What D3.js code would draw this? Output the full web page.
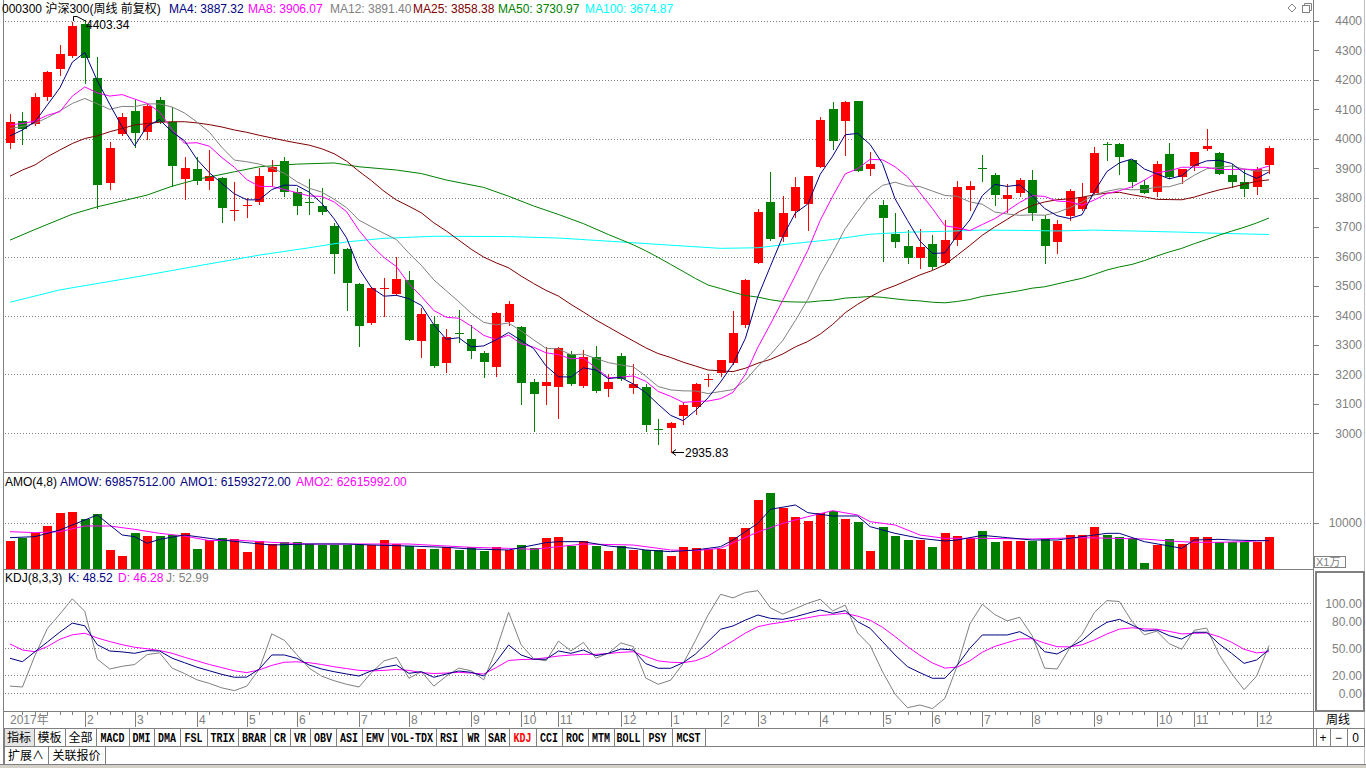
<!DOCTYPE html>
<html><head><meta charset="utf-8">
<script src="https://cdn.jsdelivr.net/npm/d3@7/dist/d3.min.js"></script>
<style>html,body{margin:0;padding:0;background:#fff;overflow:hidden}svg{display:block}</style>
</head><body>
<script>
// ---------------- DATA ----------------
const opens=[3987,4060,4049,4143,4236,4281,4390,4207,3851,4015,
4094,4024,4132,4056,3864,3897,3857,3866,3757,3773,
3786,3888,3925,3819,3784,3771,3703,3625,3507,3376,
3490,3472,3520,3314,3370,3239,3341,3319,3271,3225,
3378,3360,3173,3161,3157,3268,3161,3258,3151,3262,
3155,3156,3016,3018,3058,3090,3180,3205,3239,3367,
3579,3784,3667,3754,3778,3905,4101,4061,4128,3898,
3775,3677,3636,3596,3642,3579,3656,3826,3900,3877,
3795,3817,3860,3727,3650,3737,3760,3815,3982,3982,
3928,3843,3820,3948,3871,3907,3965,3953,3877,3854,
3837,3910];
const highs=[4084,4090,4154,4231,4318,4395,4403.34,4279,3989,4086,
4132,4117,4143,4109,3937,3937,3962,3870,3854,3800,
3901,3928,3939,3834,3863,3832,3713,3630,3510,3497,
3528,3599,3551,3426,3400,3354,3418,3369,3280,3412,
3450,3363,3184,3293,3292,3280,3282,3296,3203,3273,
3234,3166,3048,3038,3107,3172,3203,3250,3414,3525,
3763,3888,3805,3869,3875,4073,4126,4127,4130,3956,
3792,3749,3690,3693,3673,3724,3856,3856,3945,3884,
3846,3866,3894,3741,3724,3831,3849,3973,3990,3986,
3933,3860,3925,3987,3898,3956,4033,3955,3916,3899,
3903,3975];
const lows=[3970,3983,4046,4132,4216,4278,4188,3766,3831,4012,
3973,4001,4052,3839,3797,3845,3831,3717,3725,3735,
3777,3843,3806,3744,3744,3745,3545,3418,3297,3370,
3400,3470,3316,3259,3225,3208,3310,3257,3191,3196,
3367,3098,3008,3101,3052,3165,3157,3140,3127,3182,
3138,3008,2965,2935.83,3033,3066,3160,3195,3237,3362,
3577,3656,3652,3735,3690,3903,3967,3945,3889,3877,
3584,3633,3579,3560,3557,3575,3639,3758,3856,3775,
3752,3805,3724,3579,3613,3724,3759,3812,3928,3882,
3837,3815,3805,3866,3851,3894,3963,3880,3835,3805,
3812,3885];
const closes=[4056,4034,4142,4228,4288,4383,4275,3843,3968,4074,
4020,4111,4056,3907,3900,3857,3873,3764,3759,3775,
3873,3903,3820,3771,3782,3752,3609,3511,3364,3494,
3493,3523,3318,3404,3229,3326,3339,3280,3242,3409,
3438,3171,3134,3173,3290,3167,3259,3144,3173,3184,
3168,3028,3014,3034,3095,3168,3185,3248,3339,3520,
3750,3659,3747,3835,3873,4064,3993,4125,3891,3914,
3732,3649,3596,3633,3565,3656,3837,3839,3896,3809,
3809,3860,3749,3636,3710,3822,3801,3953,3980,3939,
3854,3817,3914,3871,3898,3956,3975,3880,3854,3829,
3899,3968];
const ma4=[4010,4030,4058,4115,4173,4260.25,4293.5,4197.25,4117.25,4040,
3976.25,4043.25,4065.25,4023.5,3993.5,3930,3884.25,3848.5,3813.25,3792.75,
3792.75,3827.5,3842.75,3841.75,3819,3781.25,3728.5,3663.5,3559,3494.5,
3465.5,3468.5,3457,3434.5,3368.5,3319.25,3324.5,3293.5,3296.75,3317.5,
3342.25,3315,3288,3229,3192,3191,3222.25,3215,3185.75,3190,
3167.25,3138.25,3098.5,3061,3042.75,3077.75,3120.5,3174,3235,3323,
3464.25,3567,3669,3747.75,3778.5,3879.75,3941.25,4013.75,4018.25,3980.75,
3915.5,3796.5,3722.75,3652.5,3610.75,3612.5,3672.75,3724.25,3807,3845.25,
3838.25,3843.5,3806.75,3763.5,3738.75,3729.25,3742.25,3821.5,3889,3918.25,
3931.5,3897.5,3881,3864,3875,3909.75,3925,3927.25,3916.25,3884.5,
3865.5,3887.5];
const ma8=[4047,4052,4060,4080,4092,4145,4176,4156.1,4145.1,4150.1,
4134.9,4120.25,4091.25,4031.75,3984.9,3986.6,3974.75,3936,3903.4,3861.4,
3838.5,3838,3828,3817.25,3805.9,3804.4,3785.6,3752.6,3689,3637.9,
3597,3566,3508,3464.5,3417,3393.9,3390.75,3364,3332.6,3318.4,
3333.4,3304.25,3292.4,3273.25,3267.1,3253,3255.1,3222,3188.9,3190.5,
3194.75,3176.6,3142.1,3125.5,3105,3108,3109.5,3117.5,3138.9,3200.4,
3292.4,3370.5,3452,3535.4,3621.4,3723.4,3805.1,3880.75,3898.4,3930.25,
3928.4,3905.1,3870.5,3816.6,3763.1,3704.5,3697.75,3688.4,3708.9,3728.9,
3755.5,3783.9,3806.9,3804.4,3788.5,3786.4,3774.5,3792.5,3813.9,3823.75,
3836.9,3859.5,3885,3891.1,3903.25,3903.6,3903,3895.6,3895.6,3897.1,
3895.25,3907.4];
const ma12=[4035,4042,4052,4072,4095,4120,4137,4119,4100.1,4110.1,
4109.25,4118.5,4118.5,4107.9,4087.75,4056.8,4022.25,3970.7,3927.7,3922,
3914.1,3899.8,3883.2,3854.8,3832,3819.1,3794.8,3766,3723.6,3701.1,
3678.9,3657.9,3611.7,3570.1,3520.8,3483.75,3446.8,3407.5,3376.9,3368.4,
3374.6,3347.7,3317.75,3288.6,3286.25,3266.5,3269,3253.8,3240,3232,
3225.8,3194.1,3158.75,3147.3,3144.1,3143.7,3134.9,3141.7,3148.3,3179.7,
3227.75,3267.3,3315.6,3382.8,3454.4,3540.25,3615.1,3694.8,3753.7,3809.2,
3841.9,3852.7,3839.8,3837.7,3822.5,3807.6,3804.6,3785.8,3777.75,3751.4,
3744.6,3740.1,3741.5,3740.4,3749.9,3765.7,3785.3,3810.1,3822,3830.3,
3826.8,3827.5,3836.25,3837.2,3849.6,3876.25,3898.3,3903.2,3907.6,3897.25,
3890.5,3892.9];
const ma25=[3873,3894,3911,3939,3962,3984,4001,4010,4024,4035,
4047,4052,4056,4058,4058,4054,4048,4040,4030,4022,
4012,4003,3994,3986,3978.5,3966.3,3949.3,3924.1,3889.5,3857.8,
3822.2,3792.1,3771.1,3748.5,3714.7,3687,3656.1,3625,3598.4,3578.8,
3562,3534,3508.8,3485.3,3465.9,3437.7,3411.9,3384.9,3361,3337,
3313.7,3290.4,3270.6,3257.4,3241.4,3228.4,3214.9,3212.1,3209.5,3221.1,
3238.1,3250.9,3269.6,3293.3,3311.8,3336.9,3369.8,3409.4,3438.1,3463.1,
3485.7,3501.3,3519.4,3537.8,3553,3572.5,3604.9,3637.9,3672.4,3700.9,
3726.6,3753.6,3773.6,3785.5,3793.1,3796,3801.6,3809.9,3815.7,3818.3,
3809.9,3802.9,3794.4,3793.6,3793,3802,3815,3826.4,3835.2,3845.8,
3855.5,3860.7];
// [week index, value]
const ma50=[[0,3656],[2,3692],[5,3744],[7,3769],[11,3809],[13,3839],[15,3862],[18,3888],[20,3905],[23,3914],
[26,3918],[28,3905],[31,3894],[33,3882],[35,3860],[38,3835],[40,3805],[42,3772],[44,3743],[46,3712],[48,3675],
[49,3657.8],[50,3640],[51,3619.9],[52,3597.3],[53,3573.4],[54,3549.6],[55,3525.3],[56,3503.5],[57,3491.6],[58,3479],
[59,3467.9],[60,3462.5],[61,3453.5],[62,3447.3],[63,3445.9],[64,3445.3],[65,3449.5],[66,3451.9],[67,3459.1],[68,3461.7],
[69,3464.5],[70,3461.7],[71,3456.6],[72,3452.1],[73,3449.4],[74,3445],[75,3443.1],[76,3447.7],[77,3454.2],[78,3464.9],
[79,3471.2],[80,3477.5],[81,3484.2],[82,3492.8],[83,3497.5],[84,3507.1],[85,3517],[86,3526.3],[87,3539.7],[88,3554.5],
[89,3565.1],[90,3573.4],[91,3586.3],[92,3601.9],[93,3615.9],[94,3628],[95,3643.8],[96,3658.1],[97,3672.9],[98,3686.5],
[99,3699.4],[100,3714],[101,3731]];
const ma100=[[0,3445],[4,3487],[10,3530],[15,3568],[20,3605],[24,3630],[27,3650],[30,3662],[34,3669],[40,3668],
[44,3663],[47,3655],[50,3647],[54,3636],[57,3628],[60,3630],[63,3645],[66,3658],[69,3676],[72,3683],
[75,3686],[78,3690],[81,3689],[84,3687],[87,3690],[90,3687],[94,3683],[97,3679],[101,3675]];
// turnover (x1万)
const amo=[6152,6739,7754,9420,12246,12464,10797,12029,4130,2826,
7899,7246,7246,7391,7899,4420,6304,6667,6522,3768,
6087,5435,5942,5942,5435,5217,5217,5217,5217,5217,
6304,5435,5000,4348,4348,4855,4130,4710,3913,4710,
4130,5217,4493,6739,6957,5072,6087,5000,3986,5000,
4130,4058,4058,2826,4783,4565,4348,4348,6957,8913,
15000,16522,13333,11304,10435,12101,12609,10870,10217,3913,
9130,7174,6304,6304,4783,7899,7246,6812,8261,5942,
6087,6087,6087,6449,6087,7391,7391,9130,7391,7029,
6812,1304,5217,6522,5500,7000,7000,5950,5900,5850,
5900,6986];
const amo1=[[0,6812],[2,7029],[4,8478],[6,10652],[7,11739],[8,9565],[9,7391],[10,7029],[11,5580],[12,6449],
[14,7391],[15,7029],[17,6304],[19,5725],[21,5217],[24,5435],[27,5435],[29,5217],[32,5000],[35,4710],
[37,4348],[38,4275],[40,4130],[43,5725],[44,5942],[46,5942],[48,5000],[50,4493],[51,4130],[53,3768],
[55,4130],[56,4493],[57,4855],[58,6304],[60,9927],[61,12971],[63,13913],[64,12246],[66,11522],[68,11522],
[69,9203],[71,7754],[73,6667],[75,6087],[76,6304],[78,7319],[80,6812],[82,6304],[84,6304],[86,7029],
[88,7754],[89,7754],[91,5942],[93,5000],[94,4493],[95,6304],[97,6449],[98,6304],[100,6159],[101,6159]];
const amo2=[[0,8116],[2,7899],[4,8116],[6,9348],[8,9348],[10,8623],[12,7754],[14,7174],[16,6159],[18,6304],
[21,5797],[24,5435],[27,5435],[29,5435],[32,5435],[35,5000],[37,4710],[40,4493],[42,4275],[46,5435],
[50,5217],[53,4130],[55,3986],[57,4493],[60,8043],[62,9927],[64,11377],[66,12681],[68,11739],[69,10290],
[71,9565],[73,7391],[75,6667],[78,6667],[82,6522],[86,6812],[91,6522],[93,6087],[95,5797],[97,5797],
[99,5942],[101,6262]];
const kdjK=[38.9,35.1,46.2,57,68,78,75,54,47,46,
44.4,47.4,47,39,34,29,25,21,17.8,18,
27,42.6,42.6,38.9,31.4,27,24,21.5,19.2,25,
29,31.4,22.2,24,17.8,21.4,24.8,23.3,19.2,35.1,
53.7,42.6,37.8,37.8,47,44.4,48.1,41.8,44.4,49.2,
48.1,33,27.8,27.8,34,43.7,57.4,71.1,74.8,81.4,
87,83.3,82.2,85.1,88.9,92.6,88.9,91.8,79.6,72.2,
57.4,42.6,29.6,22.9,16.7,16.7,31.4,50,64.8,64.8,
64.8,68.5,61.1,46.2,43.7,51.1,58.5,70.3,78.9,82.2,
75.9,69.2,70.3,64,60.3,67.8,67.8,54.8,44.4,33.3,
37,48.52];
const kdjD=[54.8,48.1,46.2,52,60,65,66.7,61.5,57.5,54,
51.1,49.5,47.5,44.5,40,36,32,28.5,25,23,
26,31,34.5,35,34,32,29.5,27.5,25.5,24.8,
25.5,26.5,25.5,23,22,22.5,23.3,22.5,21.4,28.5,
36.5,37.5,37.8,39.5,41.4,42.5,43.3,43.3,44.2,45.5,
46.2,41,36,34.5,34,36.2,41.4,50,58.3,67,
74,77,79,81.5,84,86.5,87.5,88.8,85.7,81.2,
73.3,63.1,51.9,42.2,33.7,28,29.1,36.1,45.7,52.1,
56.3,60.4,60.6,55.8,51.8,51.6,53.9,59.4,65.9,71.3,
72.8,71.6,71.2,68.8,66,66.6,67,62.9,56.7,48.9,
44.9,46.28];
const kdjJ=[8,7,42,72,88,105,91,38,27,30,
32,43,45,28,22,15,11,6,3,8,
27,66,59,43,28,19,14,10,7,23,
36,40,16.7,24,8,19,28,25,15,48,
90,54,38.5,36,58,47,56.5,39,44.5,56,
52,17,10,14.6,33,59,87,110,106,112,
114,95,88,94,100,104.5,91.5,98,67,53,
24,-1,-16,-13,-17,-5.6,31,77,99,87.5,
80.5,84.5,64,28,27,50,65.5,90,103,102,
80,65,69,55,49,70,72.5,43,22,4,
19,52.99];
const monthTicks=[[0,"2017年"],[6,"2"],[10,"3"],[15,"4"],[19,"5"],[23,"6"],[28,"7"],[32,"8"],[37,"9"],[41,"10"],[44,"11"],[49,"12"],
[53,"1"],[57,"2"],[60,"3"],[65,"4"],[70,"5"],[74,"6"],[78,"7"],[82,"8"],[87,"9"],[92,"10"],[95,"11"],[100,"12"]];
const priceTicks=d3.range(3000,4401,100);
const priceGrid=d3.range(3000,4401,200);
const amoTicks=[10000];
const kdjTicks=[0,20,50,80,100];
const headerItems=[["000300 沪深300(周线 前复权)","#000000"],["MA4: 3887.32","#000080"],["MA8: 3906.07","#ff00ff"],["MA12: 3891.40","#808080"],["MA25: 3858.38","#800000"],["MA50: 3730.97","#008000"],["MA100: 3674.87","#00ffff"]];
const amoItems=[["AMO(4,8)","#000000"],["AMOW: 69857512.00","#000080"],["AMO1: 61593272.00","#000080"],["AMO2: 62615992.00","#ff00ff"]];
const kdjItems=[["KDJ(8,3,3)","#000000"],["K: 48.52","#000080"],["D: 46.28","#ff00ff"],["J: 52.99","#808080"]];
const tabs=["指标","模板","全部","MACD","DMI","DMA","FSL","TRIX","BRAR","CR","VR","OBV","ASI","EMV","VOL-TDX","RSI","WR","SAR","KDJ","CCI","ROC","MTM","BOLL","PSY","MCST"];
const tabs2=["扩展∧","关联报价"];
const hiMark={idx:6,value:4403.34,label:"4403.34"};
const loMark={idx:53,value:2935.83,label:"2935.83"};

// ---------------- LAYOUT ----------------
const headerX=[2,169,248,330,413,498,585];
const amoX=[5,60,180,296];
const kdjX=[5,68,118,166];
const tabSeps=[4,34,65,96,129,154,180,207,238,270,290,310,336,362,388,436,462,485,509,536,562,588,614,643,672,705];
const tab2Seps=[4,48,105];
const FONT='"Liberation Sans","Noto Sans CJK SC",Arial,sans-serif';
const GRAY="#808080", RED="#ff0000", GRN="#008000";
const AX=1313; // right axis x

const svg=d3.select("body").append("svg").attr("width",1366).attr("height",768).style("font-family",FONT).style("font-size","12px");
svg.append("rect").attr("width",1366).attr("height",768).attr("fill","#fff");
const defs=svg.append("defs");
defs.append("clipPath").attr("id","cMain").append("rect").attr("x",4).attr("y",16).attr("width",AX-4).attr("height",456);
defs.append("clipPath").attr("id","cVol").append("rect").attr("x",4).attr("y",473).attr("width",AX-4).attr("height",96);
defs.append("clipPath").attr("id","cKdj").append("rect").attr("x",4).attr("y",570).attr("width",AX-4).attr("height",141);

const n=closes.length;
const x=d3.scalePoint().domain(d3.range(n)).range([10,1269]);
const cx=i=>Math.round(x(i));
const yP=d3.scaleLinear().domain([3000,4400]).range([433.3,21]);
const yV=d3.scaleLinear().domain([0,10000]).range([569,523]);
const yK=d3.scaleLinear().domain([0,100]).range([693.3,603.3]);
const isUp=i=>closes[i]>=opens[i];

function hl(y,x1,x2,c,w){svg.append("line").attr("x1",x1).attr("x2",x2).attr("y1",y).attr("y2",y).attr("stroke",c||GRAY).attr("stroke-width",w||1).attr("shape-rendering","crispEdges");}
function vl(xx,y1,y2,c,w){svg.append("line").attr("x1",xx).attr("x2",xx).attr("y1",y1).attr("y2",y2).attr("stroke",c||GRAY).attr("stroke-width",w||1).attr("shape-rendering","crispEdges");}
function dotted(y){svg.append("line").attr("x1",5).attr("x2",AX).attr("y1",Math.round(y)+0.5).attr("y2",Math.round(y)+0.5).attr("stroke",GRAY).attr("stroke-dasharray","1,2").attr("shape-rendering","crispEdges");}

// frame
vl(3.5,0,764,GRAY);
vl(AX+0.5,0,746,GRAY);
vl(1364.5,0,764,"#c0c0c0");
hl(472.5,3,AX,GRAY);
hl(569.5,3,AX,GRAY);
hl(711.5,3,1365,GRAY);
hl(728.5,3,1365,GRAY);
hl(746.5,3,1365,GRAY);
hl(764.5,0,1366,GRAY);
svg.append("rect").attr("x",0).attr("y",765).attr("width",1366).attr("height",3).attr("fill","#d4d0c8");

// grids
priceGrid.forEach(v=>dotted(yP(v)));
amoTicks.forEach(v=>dotted(yV(v)));
kdjTicks.forEach(v=>dotted(yK(v)));

// price axis
const gA=svg.append("g").attr("transform",`translate(${AX+0.5},0)`)
  .call(d3.axisRight(yP).tickValues(priceTicks).tickSize(5).tickFormat(d3.format("d")));
gA.select(".domain").remove();
gA.attr("font-family",FONT).attr("font-size",12);
gA.selectAll("line").attr("stroke",GRAY).attr("shape-rendering","crispEdges");
gA.selectAll("text").attr("x",48.5).attr("text-anchor","end").attr("fill",GRAY);

const gV=svg.append("g").attr("transform",`translate(${AX+0.5},0)`)
  .call(d3.axisRight(yV).tickValues(amoTicks).tickSize(5).tickFormat(d3.format("d")));
gV.select(".domain").remove();
gV.attr("font-family",FONT).attr("font-size",12);
gV.selectAll("line").attr("stroke",GRAY).attr("shape-rendering","crispEdges");
gV.selectAll("text").attr("x",48.5).attr("text-anchor","end").attr("fill",GRAY);
svg.append("rect").attr("x",1314.5).attr("y",556.5).attr("width",31).attr("height",11).attr("fill","none").attr("stroke",GRAY).attr("shape-rendering","crispEdges");
svg.append("text").attr("x",1316).attr("y",566).attr("fill",GRAY).style("font-size","11px").text("X1万");

// KDJ axis box
svg.append("rect").attr("x",1315.5).attr("y",571.5).attr("width",48).attr("height",139).attr("fill","none").attr("stroke",GRAY).attr("stroke-width",2).attr("shape-rendering","crispEdges");
const gK=svg.append("g").attr("transform",`translate(${AX+0.5},0)`)
  .call(d3.axisRight(yK).tickValues(kdjTicks).tickSize(0).tickFormat(d3.format(".2f")));
gK.select(".domain").remove();
gK.attr("font-family",FONT).attr("font-size",12);
gK.selectAll("text").attr("x",48.5).attr("text-anchor","end").attr("fill",GRAY);

// header texts
function labelRow(items,xs,y){items.forEach((d,i)=>svg.append("text").attr("x",xs[i]).attr("y",y).attr("fill",d[1]).text(d[0]));}
labelRow(headerItems,headerX,13);
labelRow(amoItems,amoX,486);
labelRow(kdjItems,kdjX,582);
// top-right icons
svg.append("path").attr("d","M1292,4 l4,4 l-4,4 l-4,-4 z").attr("fill","none").attr("stroke",GRAY);
svg.append("rect").attr("x",1302.5).attr("y",5.5).attr("width",7).attr("height",7).attr("fill","none").attr("stroke",GRAY);
svg.append("path").attr("d","M1304.5,5.5 v-2 h7 v7 h-2").attr("fill","none").attr("stroke",GRAY);

// candles
const gc=svg.append("g").attr("clip-path","url(#cMain)").attr("shape-rendering","crispEdges");
const idx=d3.range(n);
gc.selectAll("line.wick").data(idx).join("line").attr("class","wick")
  .attr("x1",i=>cx(i)+0.5).attr("x2",i=>cx(i)+0.5)
  .attr("y1",i=>Math.round(yP(highs[i]))).attr("y2",i=>Math.round(yP(lows[i]))+1)
  .attr("stroke",i=>isUp(i)?RED:GRN);
gc.selectAll("rect.body").data(idx).join("rect").attr("class","body")
  .attr("x",i=>cx(i)-4).attr("width",9)
  .attr("y",i=>Math.round(yP(Math.max(opens[i],closes[i]))))
  .attr("height",i=>Math.max(1,Math.round(yP(Math.min(opens[i],closes[i])))-Math.round(yP(Math.max(opens[i],closes[i])))))
  .attr("fill",i=>isUp(i)?RED:GRN);

// MA lines
const gl=svg.append("g").attr("clip-path","url(#cMain)").attr("fill","none");
const lineP=d3.line().x(d=>x(d[0])).y(d=>yP(d[1]));
const asPairs=a=>a.map((v,i)=>[i,v]);
[[ma100,"#00ffff"],[ma50,"#008000"],[asPairs(ma25),"#800000"],[asPairs(ma12),GRAY],[asPairs(ma8),"#ff00ff"],[asPairs(ma4),"#000080"]]
 .forEach(([d,c])=>gl.append("path").attr("d",lineP(d)).attr("stroke",c).attr("stroke-width",1));

// high / low marks
const hx=cx(hiMark.idx), hy=Math.round(yP(hiMark.value));
svg.append("path").attr("d",`M${hx-11.5},${hy+1} V${hy-3.5} H${hx-8} L${hx+0.5},${hy+1}`).attr("fill","none").attr("stroke","#000");
svg.append("text").attr("x",hx+1).attr("y",hy+8.5).attr("fill","#000").text(hiMark.label);
const lx=cx(loMark.idx), ly=Math.round(yP(loMark.value))+0.5;
svg.append("path").attr("d",`M${lx+1},${ly} H${lx+13} M${lx+1},${ly} l4,-3 M${lx+1},${ly} l4,3`).attr("fill","none").attr("stroke","#000");
svg.append("text").attr("x",lx+14).attr("y",ly+4.5).attr("fill","#000").text(loMark.label);

// volume
const gv=svg.append("g").attr("clip-path","url(#cVol)").attr("shape-rendering","crispEdges");
gv.selectAll("rect").data(idx).join("rect")
  .attr("x",i=>cx(i)-4).attr("width",9)
  .attr("y",i=>Math.round(yV(amo[i]))).attr("height",i=>569-Math.round(yV(amo[i])))
  .attr("fill",i=>isUp(i)?RED:GRN);
const lineV=d3.line().x(d=>x(d[0])).y(d=>yV(d[1]));
const gvl=svg.append("g").attr("clip-path","url(#cVol)").attr("fill","none");
gvl.append("path").attr("d",lineV(amo2)).attr("stroke","#ff00ff");
gvl.append("path").attr("d",lineV(amo1)).attr("stroke","#000080");

// KDJ
const lineK=d3.line().x(d=>x(d[0])).y(d=>yK(d[1]));
const gk=svg.append("g").attr("clip-path","url(#cKdj)").attr("fill","none");
gk.append("path").attr("d",lineK(asPairs(kdjJ))).attr("stroke",GRAY);
gk.append("path").attr("d",lineK(asPairs(kdjD))).attr("stroke","#ff00ff");
gk.append("path").attr("d",lineK(asPairs(kdjK))).attr("stroke","#000080");

// x axis row
const monthIdx=new Set(monthTicks.map(d=>d[0]));
const gx=svg.append("g").attr("shape-rendering","crispEdges");
gx.selectAll("line.minor").data(idx.filter(i=>!monthIdx.has(i))).join("line")
  .attr("x1",i=>cx(i)+0.5).attr("x2",i=>cx(i)+0.5).attr("y1",712).attr("y2",715).attr("stroke",GRAY);
gx.selectAll("line.major").data(monthTicks.filter(d=>d[0]>0)).join("line")
  .attr("x1",d=>cx(d[0])+0.5).attr("x2",d=>cx(d[0])+0.5).attr("y1",712).attr("y2",727).attr("stroke",GRAY);
svg.selectAll("text.mt").data(monthTicks).join("text").attr("class","mt")
  .attr("x",d=>cx(d[0])+(d[0]>0?2:0)).attr("y",724).attr("fill",GRAY).text(d=>d[1]);
svg.append("text").attr("x",1338).attr("y",724).attr("text-anchor","middle").attr("fill","#000").text("周线");

// tabs
svg.append("rect").attr("x",tabSeps[0]).attr("y",729).attr("width",tabSeps[1]-tabSeps[0]).attr("height",17).attr("fill","#e4e4e4");
tabSeps.forEach(s=>vl(s+0.5,729,746,GRAY));
tabs.forEach((t,i)=>{
  const mid=(tabSeps[i]+tabSeps[i+1])/2;
  const cjk=/[\u4e00-\u9fff]/.test(t);
  const tx=svg.append("text").attr("x",mid).attr("y",cjk?742:741.5).attr("text-anchor","middle")
     .attr("fill",t==="KDJ"?RED:"#000").text(t);
  if(!cjk){tx.style("font-family",'"Liberation Mono",monospace').style("font-size","12px")
     .attr("textLength",t.length*6).attr("lengthAdjust","spacingAndGlyphs").style("font-weight","bold");}
});
tab2Seps.forEach(s=>vl(s+0.5,747,764,GRAY));
tabs2.forEach((t,i)=>svg.append("text").attr("x",(tab2Seps[i]+tab2Seps[i+1])/2).attr("y",760).attr("text-anchor","middle").attr("fill","#000").text(t));
// + - 0 buttons
[1316,1330,1347,1364].forEach(s=>vl(s+0.5,729,746,GRAY));
[["+",1323],["−",1338.5],["0",1355.5]].forEach(d=>svg.append("text").attr("x",d[1]).attr("y",742).attr("text-anchor","middle").attr("fill","#000").text(d[0]));
</script>
</body></html>
